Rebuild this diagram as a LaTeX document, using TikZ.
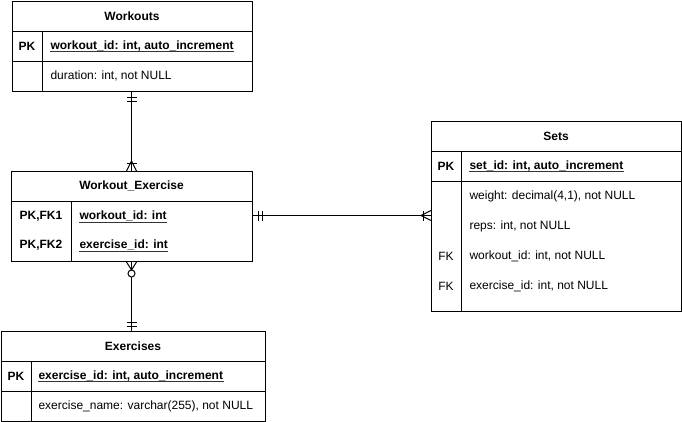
\documentclass[tikz,border=0pt]{standalone}
\usepackage{fontspec}
\setmainfont{Liberation Sans}
\usetikzlibrary{calc}
\begin{document}
\begin{tikzpicture}[x=1pt,y=-1pt,line width=1pt,
  tbl/.style={draw=black,fill=white,rectangle,inner sep=0pt,anchor=north west},
  ttl/.style={font=\fontsize{12}{14}\selectfont\bfseries,inner sep=0pt},
  key/.style={font=\fontsize{12}{14}\selectfont,inner sep=0pt},
  keyb/.style={font=\fontsize{12}{14}\selectfont\bfseries,inner sep=0pt},
  fld/.style={font=\fontsize{12}{14}\selectfont,inner sep=0pt,anchor=west},
  fldb/.style={font=\fontsize{12}{14}\selectfont\bfseries,inner sep=0pt,anchor=west},
  uline/.style={line width=0.6pt,black!80},
  pics/mandone/.style={code={
    \draw (5,-5) -- (5,5);
    \draw (9,-5) -- (9,5);}},
  pics/onemany/.style={code={
    \draw (10,0) -- (0,-5);
    \draw (10,0) -- (0,5);
    \draw (8,-5) -- (8,5);}},
  pics/zeromany/.style={code={
    \draw (8,0) -- (0,-5);
    \draw (8,0) -- (0,5);
    \draw[fill=white] (11.5,0) circle (3.5);}}
]
\useasboundingbox[fill=white] (0,0) rectangle (682,421);

% Workouts
\node[tbl,minimum width=240,minimum height=90] (wo) at (12,1) {};
\draw (12,31) -- (252,31) (12,61) -- (252,61) (42,31) -- (42,91);
\node[ttl] (woT) at (132,16) {Workouts};
\node[keyb] (woK1) at (27,46) {PK};
\node[fldb] (woF1) at (50,46) {workout\_id: int, auto\_increment};
\node[fld] (woF2) at (50,76) {duration: int, not NULL};

% Workout_Exercise
\node[tbl,minimum width=241,minimum height=90] (we) at (11,171) {};
\draw (11,201) -- (252,201) (71,201) -- (71,261);
\node[ttl] (weT) at (131.5,186) {Workout\_Exercise};
\node[keyb] (weK1) at (41,216) {PK,FK1};
\node[keyb] (weK2) at (41,245) {PK,FK2};
\node[fldb] (weF1) at (79,216) {workout\_id: int};
\node[fldb] (weF2) at (79,245) {exercise\_id: int};

% Exercises
\node[tbl,minimum width=264,minimum height=89.5] (ex) at (1,331) {};
\draw (1,361) -- (265,361) (1,391) -- (265,391) (31,361) -- (31,420.5);
\node[ttl] (exT) at (133,346) {Exercises};
\node[keyb] (exK1) at (16,376) {PK};
\node[fldb] (exF1) at (38,376) {exercise\_id: int, auto\_increment};
\node[fld] (exF2) at (38,406) {exercise\_name: varchar(255), not NULL};

% Sets
\node[tbl,minimum width=250,minimum height=190] (st) at (431,121) {};
\draw (431,151) -- (681,151) (431,181) -- (681,181) (461,151) -- (461,311);
\node[ttl] (stT) at (556,136) {Sets};
\node[keyb] (stK1) at (446,166) {PK};
\node[fldb] (stF1) at (469,166) {set\_id: int, auto\_increment};
\node[fld] (stF2) at (469,196) {weight: decimal(4,1), not NULL};
\node[fld] (stF3) at (469,226) {reps: int, not NULL};
\node[key] (stK4) at (446,256) {FK};
\node[fld] (stF4) at (469,256) {workout\_id: int, not NULL};
\node[key] (stK5) at (446,286) {FK};
\node[fld] (stF5) at (469,286) {exercise\_id: int, not NULL};

% Underlined primary keys
\foreach \n in {woF1,weF1,weF2,exF1,stF1}
  \draw[uline] ($(\n.base west)+(0,2.2)$) -- ($(\n.base east)+(0,2.2)$);

% Relationships
\coordinate (r1a) at ($(wo.south)+(-1,0)$);
\coordinate (r1b) at (r1a |- we.north);
\draw (r1a) -- (r1b);
\pic[rotate=-90] at (r1a) {mandone};
\pic[rotate=90] at (r1b) {onemany};

\coordinate (r2a) at ($(we.south)+(-0.5,0)$);
\coordinate (r2b) at (r2a |- ex.north);
\draw (r2a) -- (r2b);
\pic[rotate=90] at (r2b) {mandone};
\pic[rotate=-90] at (r2a) {zeromany};

\coordinate (r3a) at ($(we.east)+(0,-1)$);
\coordinate (r3b) at (r3a -| st.west);
\draw (r3a) -- (r3b);
\pic at (r3a) {mandone};
\pic[rotate=180] at (r3b) {onemany};
\end{tikzpicture}
\end{document}
